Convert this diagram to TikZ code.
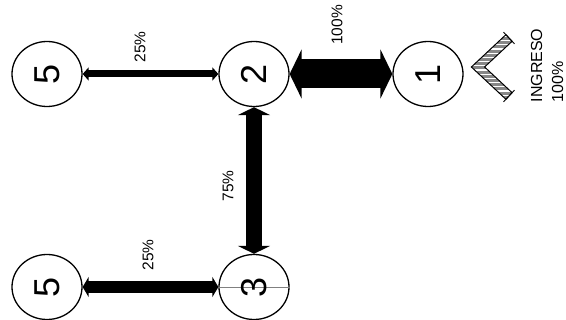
\documentclass[tikz,border=0pt]{standalone}
\usepackage{fontspec}
\usepackage{graphicx}
\setmainfont{Liberation Sans}
\usetikzlibrary{shapes.geometric,arrows.meta}
\tikzset{
  station/.style={draw=black, line width=1.3pt, ellipse, minimum width=70pt, minimum height=65pt, inner sep=0pt, fill=white},
  pct/.style={rotate=90, font=\fontsize{15.5}{18}\selectfont, inner sep=0pt},
  flowA/.style={line width=7pt, {Triangle[length=6pt,width=13pt]}-{Triangle[length=6pt,width=13pt]}},
  flowB/.style={line width=12pt, {Triangle[length=6pt,width=20pt]}-{Triangle[length=6pt,width=20pt]}},
  flowC/.style={line width=16pt, {Triangle[length=8pt,width=32pt]}-{Triangle[length=8pt,width=32pt]}},
  flowD/.style={line width=29pt, {Triangle[length=12pt,width=49pt]}-{Triangle[length=12pt,width=49pt]}},
}
\newcommand{\dig}[1]{\rotatebox{90}{\fontsize{36}{40}\selectfont #1}}
\begin{document}
\begin{tikzpicture}[x=1pt,y=-1pt]
\useasboundingbox (0,0) rectangle (566,320);
% stations
\node[station] (a5) at (47,74) {\dig{5}};
\node[station] (a2) at (254,74) {\dig{2}};
\node[station] (a1) at (428,74) {\dig{1}};
\node[station] (b5) at (47,287) {\dig{5}};
\node[station] (b3) at (254,287) {};
\draw[gray, line width=0.5pt] (b3.west) -- (b3.east);
\node at (b3.center) {\dig{3}};
% flows
\draw[flowA] (a5) -- (a2);
\draw[flowD] (a2) -- (a1);
\draw[flowC] (a2) -- (b3);
\draw[flowB] (b5) -- (b3);
% labels
\node[pct] (l1) at (140,47) {25\%};
\node[pct] (l2) at (337,25) {100\%};
\node[pct] (l3) at (228,186) {75\%};
\node[pct] (l4) at (148,255) {25\%};
% entrance chevron
\begin{scope}
  \path[clip] (505.9,34.7) -- (471.4,67) -- (505.9,99.3) -- (512.1,92.7) -- (484.6,67) -- (512.1,41.3) -- cycle;
  \fill[gray!65!black!70] (460,25) rectangle (525,110);
  \foreach \k in {0,...,20} {
    \draw[white, line width=1.2pt] (460,28+\k*4.2) -- (525,28+\k*4.2);
  }
\end{scope}
\draw[black, line width=1pt, line join=miter] (505.9,34.7) -- (471.4,67) -- (505.9,99.3) -- (512.1,92.7) -- (484.6,67) -- (512.1,41.3) -- cycle;
\draw[black, line width=0.9pt] (503.5,32.1) -- (514.5,43.9);
\draw[black, line width=0.9pt] (503.5,101.9) -- (514.5,90.1);
\node[rotate=90, align=left, inner sep=0pt, font=\fontsize{16}{21}\selectfont] (ing) at (547,65.5) {INGRESO\\100\%};
\end{tikzpicture}
\end{document}
